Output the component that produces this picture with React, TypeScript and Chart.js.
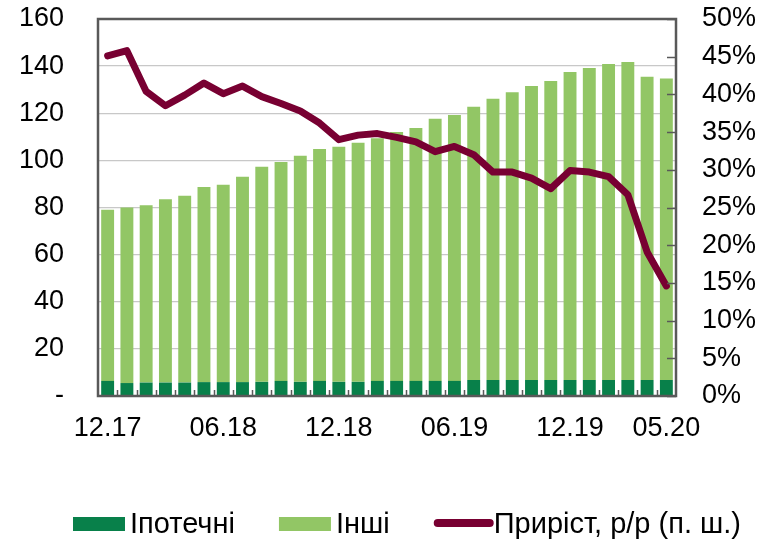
import React, { useEffect, useRef } from "react";
import { Chart, registerables } from "chart.js";

Chart.register(...registerables);

const categories = [
  "12.17", "01.18", "02.18", "03.18", "04.18", "05.18", "06.18", "07.18", "08.18", "09.18",
  "10.18", "11.18", "12.18", "01.19", "02.19", "03.19", "04.19", "05.19", "06.19", "07.19",
  "08.19", "09.19", "10.19", "11.19", "12.19", "01.20", "02.20", "03.20", "04.20", "05.20",
];
const shownTicks = ["12.17", "06.18", "12.18", "06.19", "12.19", "05.20"];

const mortgage = [
  6.4, 5.5, 5.7, 5.7, 5.7, 5.9, 5.9, 5.9, 6.0, 6.4,
  6.0, 6.4, 6.0, 6.0, 6.4, 6.4, 6.4, 6.4, 6.4, 6.8,
  6.8, 6.8, 6.8, 6.8, 6.8, 6.8, 6.8, 6.8, 6.8, 6.8,
];
const other = [
  72.6, 74.5, 75.3, 77.8, 79.3, 82.8, 83.8, 87.1, 91.3, 92.9,
  96.0, 98.4, 99.8, 101.5, 103.0, 105.6, 107.3, 111.3, 112.9, 116.0,
  119.4, 122.1, 124.8, 126.9, 130.7, 132.4, 134.1, 135.0, 128.7, 128.0,
];
const growth = [
  45.1, 45.8, 40.4, 38.5, 39.9, 41.5, 40.1, 41.1, 39.7, 38.8,
  37.8, 36.2, 34.0, 34.6, 34.8, 34.3, 33.7, 32.4, 33.1, 32.0,
  29.7, 29.7, 28.9, 27.5, 29.9, 29.7, 29.1, 26.7, 19.1, 14.6,
];

const seriesNames = ["Іпотечні", "Інші", "Приріст, р/р (п. ш.)"];
const leftTicks = [0, 20, 40, 60, 80, 100, 120, 140, 160];
const rightTicks = [0, 5, 10, 15, 20, 25, 30, 35, 40, 45, 50];
const legendOrder = [1, 2, 0];

const DARK = "#08804A";
const LIGHT = "#92C665";
const LINE = "#780032";
const FRAME = "#595959";
const FONT = "'Liberation Sans', Arial, sans-serif";

const framePlugin = {
  id: "frameAndTicks",
  afterDatasetsDraw(chart: any) {
    const { ctx, chartArea } = chart;
    const xs = chart.scales.x;
    const y1 = chart.scales.y1;
    ctx.save();
    ctx.strokeStyle = FRAME;
    ctx.lineWidth = 1.5;
    for (let i = 1; i < categories.length; i++) {
      const px = Math.round((xs.getPixelForValue(i - 1) + xs.getPixelForValue(i)) / 2) + 0.5;
      ctx.beginPath();
      ctx.moveTo(px, chartArea.bottom);
      ctx.lineTo(px, chartArea.bottom - 6);
      ctx.stroke();
    }
    rightTicks.forEach((v) => {
      const py = Math.round(y1.getPixelForValue(v)) + 0.5;
      ctx.beginPath();
      ctx.moveTo(chartArea.right, py);
      ctx.lineTo(chartArea.right - 9, py);
      ctx.stroke();
    });
    ctx.lineWidth = 2.5;
    ctx.strokeRect(chartArea.left, chartArea.top, chartArea.right - chartArea.left, chartArea.bottom - chartArea.top);
    ctx.restore();
  },
  afterDraw(chart: any) {
    const { ctx } = chart;
    ctx.save();
    ctx.font = `29px ${FONT}`;
    ctx.textBaseline = "alphabetic";
    const cy = 524;
    let x = 73;
    const gap = 44;
    const sw = 52;
    legendOrder.forEach((di) => {
      const ds: any = chart.data.datasets[di];
      if (ds.type === "line") {
        ctx.strokeStyle = ds.borderColor;
        ctx.lineWidth = 8;
        ctx.lineCap = "round";
        ctx.beginPath();
        ctx.moveTo(x + 4, cy - 1);
        ctx.lineTo(x + sw + 4, cy - 1);
        ctx.stroke();
        x += sw + 8;
      } else {
        ctx.fillStyle = ds.backgroundColor;
        ctx.fillRect(x, cy - 7, sw, 14);
        x += sw + 5;
      }
      ctx.fillStyle = "#000";
      ctx.fillText(ds.label, x, cy + 9);
      x += ctx.measureText(ds.label).width + gap;
    });
    ctx.restore();
  },
};

const zeroPad = (s: any) => {
  s.paddingTop = 0;
  s.paddingBottom = 0;
};

export default function App() {
  const ref = useRef<HTMLCanvasElement>(null);
  useEffect(() => {
    document.body.style.margin = "0";
    const chart = new Chart(ref.current!, {
      type: "bar",
      data: {
        labels: categories,
        datasets: [
          {
            type: "line",
            label: seriesNames[2],
            data: growth,
            yAxisID: "y1",
            borderColor: LINE,
            backgroundColor: LINE,
            borderWidth: 7,
            pointRadius: 0,
            borderJoinStyle: "round",
            borderCapStyle: "round",
            tension: 0,
            order: 0,
          } as any,
          {
            label: seriesNames[0],
            data: mortgage,
            backgroundColor: DARK,
            yAxisID: "y",
            stack: "s",
            categoryPercentage: 1,
            barPercentage: 0.67,
            order: 1,
          },
          {
            label: seriesNames[1],
            data: other,
            backgroundColor: LIGHT,
            yAxisID: "y",
            stack: "s",
            categoryPercentage: 1,
            barPercentage: 0.67,
            order: 1,
          },
        ],
      },
      options: {
        responsive: false,
        animation: false,
        layout: { padding: { top: 19, left: 0, right: 0, bottom: 0 } },
        plugins: { legend: { display: false }, tooltip: { enabled: false } },
        scales: {
          x: {
            stacked: true,
            grid: { display: false, drawTicks: false },
            border: { display: false },
            ticks: {
              autoSkip: false,
              maxRotation: 0,
              minRotation: 0,
              padding: 16,
              color: "#000",
              font: { family: FONT, size: 27 },
              callback: (_v: any, i: number) => (shownTicks.includes(categories[i]) ? categories[i] : ""),
            },
            afterFit: (s: any) => {
              s.height = 143;
              s.paddingLeft = 0;
              s.paddingRight = 0;
            },
          },
          y: {
            stacked: true,
            position: "left",
            min: 0,
            max: 160,
            afterBuildTicks: (s: any) => {
              s.ticks = leftTicks.map((v) => ({ value: v }));
            },
            grid: { color: "#C8C8C8", lineWidth: 1.3, drawTicks: false },
            border: { display: false },
            ticks: {
              autoSkip: false,
              padding: 34,
              color: "#000",
              font: { family: FONT, size: 27 },
              callback: (v: any) => (v === 0 ? "-" : String(v)),
            },
            afterFit: (s: any) => {
              s.width = 98;
              zeroPad(s);
            },
          },
          y1: {
            position: "right",
            min: 0,
            max: 50,
            afterBuildTicks: (s: any) => {
              s.ticks = rightTicks.map((v) => ({ value: v }));
            },
            grid: { display: false, drawTicks: false },
            border: { display: false },
            ticks: {
              autoSkip: false,
              padding: 26,
              color: "#000",
              font: { family: FONT, size: 27 },
              callback: (v: any) => `${v}%`,
            },
            afterFit: (s: any) => {
              s.width = 98;
              zeroPad(s);
            },
          },
        },
      },
      plugins: [framePlugin],
    });
    return () => chart.destroy();
  }, []);
  return <canvas ref={ref} width={774} height={539} style={{ display: "block" }} />;
}
